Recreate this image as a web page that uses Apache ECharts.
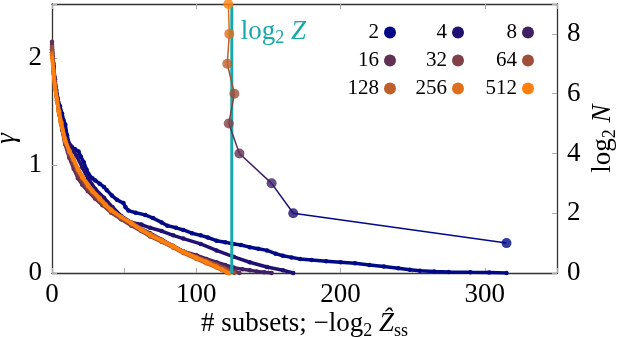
<!DOCTYPE html>
<html><head><meta charset="utf-8">
<script src="https://cdn.jsdelivr.net/npm/echarts@6/dist/echarts.min.js"></script>
<style>html,body{margin:0;padding:0;background:#fff}#c{width:618px;height:338px}</style>
</head><body><div id="c"></div>
<script>
// ---- data ----
const Ns = ['2','4','8','16','32','64','128','256','512'];
const log2N = [1,2,3,4,5,6,7,8,9];
const negLog2Zss = [315,167.2,152.2,129.9,122.5,126.4,121.5,122.9,122.2];
const negLog2Z = 124.6;
const xTicks = [0,100,200,300];

const gamma2 = [[0,2.05],[1,1.92],[2,1.8],[3,1.7],[4,1.62],[5.5,1.55],[7,1.48],[8,1.42],[9.2,1.38],[10.4,1.28],[12,1.2],[13.8,1.17],[16,1.15],[18.4,1.13],[20,1.08],[22,1.03],[24,0.96],[25.3,0.92],[28,0.88],[30,0.86],[33,0.83],[36,0.8],[38,0.77],[41.5,0.72],[45,0.68],[49.5,0.65],[51,0.61],[53,0.58],[58,0.56],[64.6,0.54],[70,0.51],[76,0.47],[80,0.44],[86,0.42],[91,0.4],[97,0.37],[103,0.35],[108,0.33],[114,0.3],[120,0.285],[126,0.27],[131,0.26],[137,0.24],[143,0.225],[149,0.21],[155,0.18],[160,0.16],[166,0.145],[172,0.13],[180,0.12],[190,0.11],[200,0.1],[210,0.09],[220,0.075],[230,0.06],[240,0.045],[248,0.03],[255,0.02],[265,0.013],[275,0.01],[290,0.006],[303,0.004],[315,0]];
const gamma4 = [[0,2.08],[1,1.92],[2,1.78],[3.5,1.64],[5,1.52],[7,1.38],[9,1.28],[11,1.22],[13,1.18],[15,1.13],[17,1.09],[21,0.98],[25,0.88],[30,0.78],[36,0.7],[42,0.61],[48,0.53],[55,0.47],[62,0.45],[68,0.42],[76,0.39],[84,0.35],[91,0.32],[103,0.27],[114,0.21],[126,0.15],[137,0.1],[149,0.056],[160,0.025],[167.2,0]];
const gamma8 = [[0,2.12],[1,1.93],[2,1.78],[3.5,1.63],[5,1.5],[7,1.35],[9,1.22],[12,1.1],[15,1.0],[18,0.9],[21,0.83],[25,0.77],[30,0.7],[35,0.64],[41,0.58],[48,0.52],[55,0.46],[62,0.41],[68,0.37],[76,0.31],[84,0.25],[91,0.2],[100,0.165],[107,0.13],[114,0.1],[120,0.075],[126,0.05],[132,0.035],[137,0.025],[142,0.015],[147,0.008],[152.2,0]];
const gamma16 = [[0,2.15],[1,1.95],[2,1.8],[3.5,1.62],[5,1.48],[7,1.33],[9,1.2],[12,1.07],[15,0.97],[18,0.88],[21,0.82],[25,0.76],[30,0.69],[35,0.63],[41,0.57],[48,0.5],[55,0.45],[62,0.39],[68,0.35],[76,0.3],[84,0.25],[91,0.2],[100,0.15],[107,0.115],[114,0.085],[120,0.05],[125,0.025],[129.9,0]];
const gamma32 = [[0,2.1],[1,1.9],[2,1.76],[3.5,1.6],[5,1.47],[7,1.34],[9,1.21],[12,1.1],[15,1.01],[18,0.92],[21,0.86],[25,0.78],[33,0.66],[41,0.56],[48,0.5],[55,0.44],[62,0.39],[68,0.34],[76,0.29],[84,0.24],[91,0.2],[100,0.15],[107,0.11],[114,0.065],[118,0.04],[122.5,0]];
const gamma64 = [[0,2.1],[1,1.88],[2,1.74],[3.5,1.6],[5,1.48],[6.5,1.39],[9,1.24],[12,1.13],[15,1.04],[18,0.95],[21,0.88],[25,0.8],[28,0.75],[33,0.68],[41,0.58],[48,0.51],[55,0.46],[62,0.4],[68,0.36],[76,0.3],[84,0.25],[91,0.2],[100,0.15],[107,0.115],[114,0.075],[120,0.04],[126.4,0]];
const gamma128 = [[0,2.05],[1,1.86],[2,1.73],[3.5,1.6],[4.6,1.5],[6,1.4],[9,1.23],[12,1.13],[15,1.05],[18,0.96],[21,0.89],[25,0.81],[28,0.76],[33,0.69],[37,0.63],[41,0.58],[48,0.52],[55,0.46],[62,0.4],[68,0.35],[76,0.29],[84,0.235],[91,0.185],[100,0.13],[107,0.09],[114,0.05],[118,0.025],[121.5,0]];
const gamma256 = [[0,2.03],[1,1.88],[2,1.75],[3.5,1.62],[5,1.5],[6.5,1.4],[9,1.25],[12,1.14],[15,1.06],[18,0.97],[21,0.9],[25,0.82],[28,0.77],[33,0.7],[37,0.64],[41,0.59],[48,0.52],[55,0.47],[62,0.41],[68,0.36],[76,0.305],[84,0.25],[91,0.2],[100,0.145],[107,0.105],[114,0.06],[118,0.035],[122.9,0]];
const gamma512 = [[0,2.0],[1,1.85],[2,1.72],[3.5,1.6],[4.6,1.5],[6,1.4],[9,1.23],[12,1.13],[15,1.05],[18,0.96],[21,0.89],[25,0.81],[28,0.76],[33,0.69],[37,0.63],[41,0.58],[48,0.52],[55,0.46],[62,0.4],[68,0.35],[76,0.3],[84,0.245],[91,0.195],[100,0.14],[107,0.1],[114,0.056],[118,0.03],[122.2,0]];
const curves = [gamma2,gamma4,gamma8,gamma16,gamma32,gamma64,gamma128,gamma256,gamma512];

// ---- styles ----
const colors = ['#000a86','#201072','#402064','#603055','#804047','#9f4f39','#bf5f2b','#df6f1c','#ff7f0e'];
const teal = '#17a9a9';
const F = "'Liberation Serif','DejaVu Serif',serif";
const FS = 27;
const rich = {
  s:{fontSize:18, fontFamily:F, padding:[14,0,0,0]},
  i:{fontSize:FS, fontFamily:F, fontStyle:'italic'},
  n:{fontSize:FS, fontFamily:F}
};
const axisLineStyle = {color:'#333', width:1.3};
const tickStyle = {color:'#aaa', width:1};

const chart = echarts.init(document.getElementById('c'), null, {renderer:'canvas'});
const series = [];
curves.forEach((d,i)=>{
  series.push({type:'line', name:Ns[i], data:d, xAxisIndex:0, yAxisIndex:0,
    symbol:'circle', symbolSize:4.5, showSymbol:true, showAllSymbol:true,
    lineStyle:{width:3.5, color:colors[i]}, itemStyle:{color:colors[i]},
    z:2+i, animation:false, silent:true});
});
series.push({type:'line', name:'logZ', data:[[negLog2Z,0],[negLog2Z,2.5]], symbol:'none',
  lineStyle:{color:teal, width:3}, z:20, animation:false, silent:true});
for (let i=0;i<Ns.length-1;i++){
  series.push({type:'line', data:[[negLog2Zss[i],log2N[i]],[negLog2Zss[i+1],log2N[i+1]]],
    xAxisIndex:0, yAxisIndex:1, symbol:'none', lineStyle:{color:colors[i], width:1.5},
    z:30, animation:false, silent:true, clip:false});
}
series.push({type:'scatter', xAxisIndex:0, yAxisIndex:1, symbolSize:10, z:40, clip:false,
  data:negLog2Zss.map((x,i)=>({value:[x,log2N[i]], itemStyle:{color:colors[i]}})),
  animation:false, silent:true});

const legends = [0,1,2].map(c=>({
  orient:'vertical', right:[222,154,84][c], top:22, padding:0, itemGap:7,
  itemWidth:12, itemHeight:12, align:'right', icon:'circle', selectedMode:false,
  data:[Ns[c],Ns[c+3],Ns[c+6]].map(n=>({name:n, icon:'circle'})),
  textStyle:{fontFamily:F, fontSize:21, color:'#000'}
}));

chart.setOption({
  animation:false,
  backgroundColor:'#fff',
  grid:{left:52, right:61, top:4, bottom:65, containLabel:false, outerBoundsMode:'none'},
  legend:legends,
  xAxis:[{
    type:'value', min:0, max:350, interval:50, position:'bottom',
    axisLine:{show:true, onZero:false, lineStyle:axisLineStyle},
    axisTick:{show:true, inside:true, length:5, lineStyle:tickStyle},
    axisLabel:{formatter:v=>xTicks.includes(v)?String(v):'', fontFamily:F, fontSize:FS, color:'#000', margin:8},
    splitLine:{show:false},
    name:'# subsets; −log{s|2} {i|Ẑ}{s|ss}', nameLocation:'middle', nameGap:35, nameMoveOverlap:false,
    nameTextStyle:{fontFamily:F, fontSize:FS, color:'#000', rich:rich}
  },{
    type:'value', min:0, max:350, interval:100, position:'top',
    axisLine:{show:true, onZero:false, lineStyle:axisLineStyle},
    axisTick:{show:true, inside:true, length:5, lineStyle:tickStyle},
    axisLabel:{show:false}, splitLine:{show:false}
  }],
  yAxis:[{
    type:'value', min:0, max:2.5, interval:1, position:'left',
    axisLine:{show:true, onZero:false, lineStyle:axisLineStyle},
    axisTick:{show:true, inside:true, length:5, lineStyle:tickStyle},
    axisLabel:{formatter:v=>(v%1===0)?String(v):'', fontFamily:F, fontSize:FS, color:'#000', margin:10},
    splitLine:{show:false},
    name:'γ', nameLocation:'middle', nameRotate:90, nameGap:32, nameMoveOverlap:false,
    nameTextStyle:{fontFamily:F, fontSize:FS, fontStyle:'italic', color:'#000'}
  },{
    type:'value', min:0, max:9, interval:2, position:'right',
    axisLine:{show:true, onZero:false, lineStyle:axisLineStyle},
    axisTick:{show:true, inside:true, length:5, lineStyle:tickStyle},
    axisLabel:{formatter:v=>(v%2===0)?String(v):'', fontFamily:F, fontSize:FS, color:'#000', margin:10},
    splitLine:{show:false},
    name:'log{s|2} {i|N}', nameLocation:'middle', nameRotate:90, nameGap:30, nameMoveOverlap:false,
    nameTextStyle:{fontFamily:F, fontSize:FS, color:'#000', rich:rich}
  }],
  series:series
});

const p = chart.convertToPixel({xAxisIndex:0, yAxisIndex:0}, [negLog2Z, 2.5]);
chart.setOption({graphic:[{
  type:'text', left:p[0]+9, top:p[1]+14, z:50, silent:true,
  style:{text:'log{s|2} {i|Z}', fill:teal, font:FS+'px '+F,
    rich:{s:{fontSize:18, fontFamily:F, fill:teal, padding:[14,0,0,0]}, i:{fontSize:FS, fontFamily:F, fontStyle:'italic', fill:teal}}}
}]});
</script></body></html>
